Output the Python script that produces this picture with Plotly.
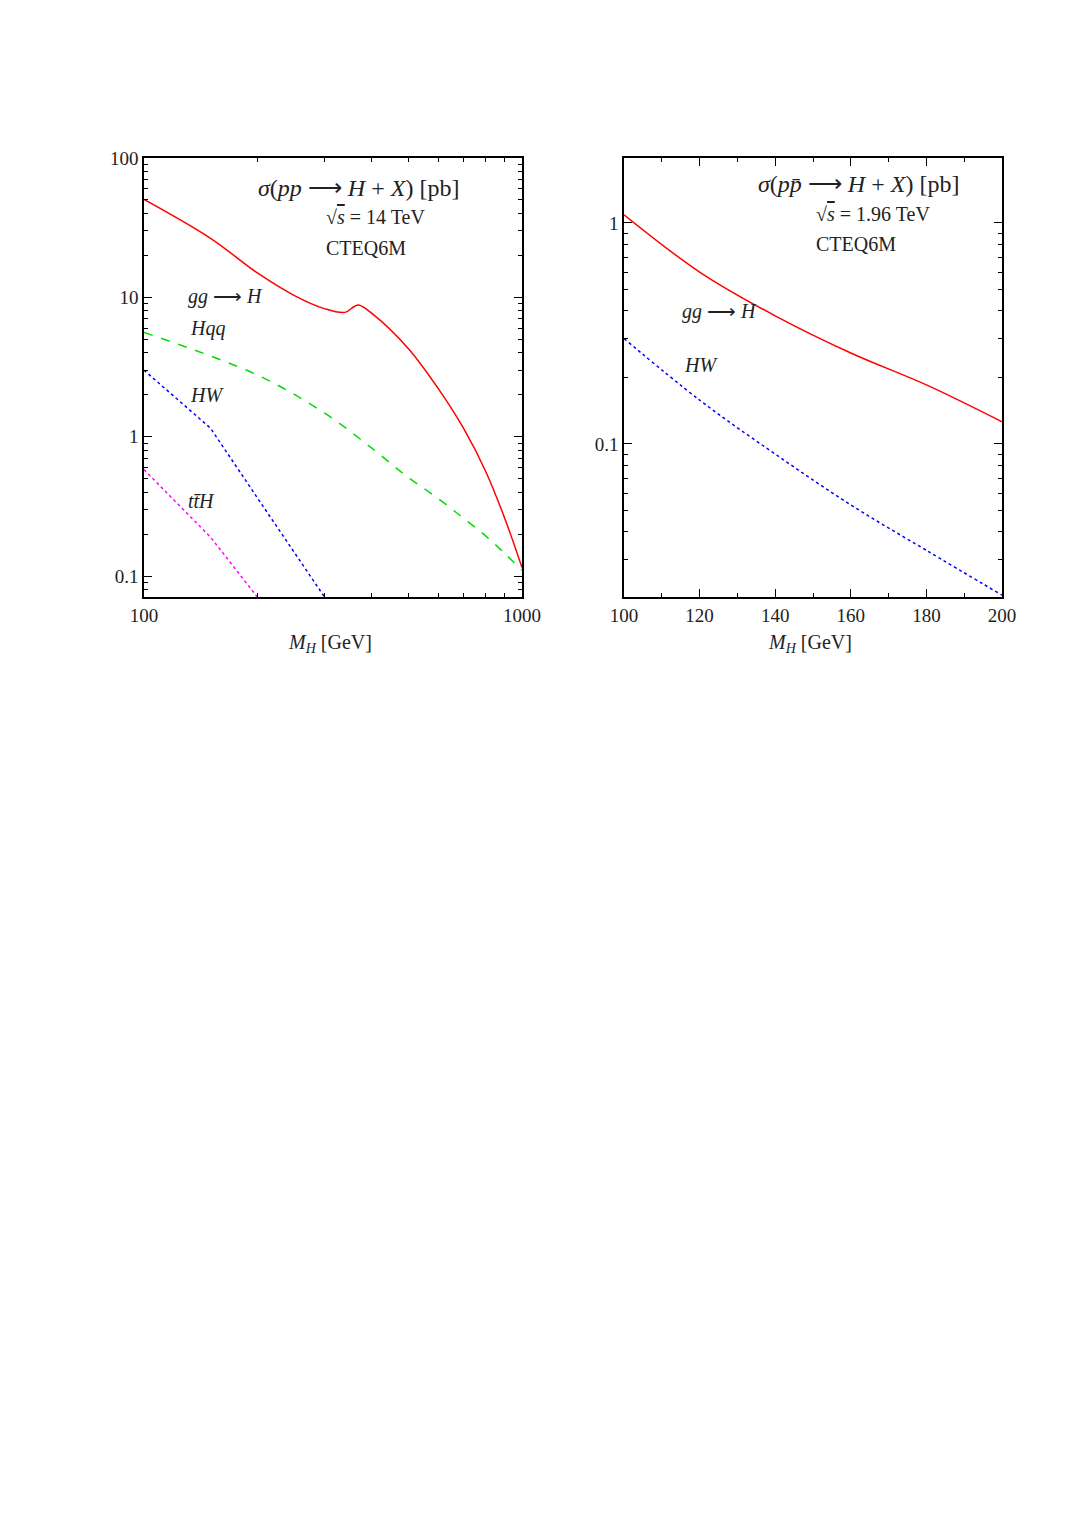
import plotly.graph_objects as go

# left panel data (LHC, sqrt(s)=14 TeV)
m_gg = [100, 150, 200, 250, 300, 340, 360, 370, 400, 500, 600, 700, 800, 900, 1000]
s_gg = [50.4, 26.5, 14.9, 10.3, 8.3, 7.8, 8.6, 8.8, 7.7, 4.3, 2.22, 1.15, 0.57, 0.26, 0.115]
m_hqq = [100, 200, 300, 400, 500, 600, 700, 800, 900, 1000]
s_hqq = [5.6, 2.76, 1.48, 0.83, 0.51, 0.36, 0.26, 0.195, 0.145, 0.11]
m_hw = [100, 150, 200, 250, 300]
s_hw = [3.0, 1.15, 0.36, 0.146, 0.071]
m_tth = [100, 150, 200]
s_tth = [0.58, 0.19, 0.07]
# right panel data (Tevatron, sqrt(s)=1.96 TeV)
m_tev = [100, 120, 140, 160, 180, 200]
s_tev_gg = [1.09, 0.60, 0.38, 0.258, 0.185, 0.126]
s_tev_hw = [0.30, 0.158, 0.090, 0.053, 0.033, 0.0207]

F = "Liberation Serif"
fig = go.Figure()
def tr(x, y, c, d, xa, ya, sh="spline"):
    fig.add_trace(go.Scatter(x=x, y=y, mode="lines", line=dict(color=c, dash=d, width=1.5, shape=sh),
                             xaxis=xa, yaxis=ya, showlegend=False))
tr(m_gg, s_gg, "#ff0000", "solid", "x", "y")
tr(m_hqq, s_hqq, "#00dd00", "dash", "x", "y")
tr(m_hw, s_hw, "#0000ff", "dot", "x", "y", "linear")
tr(m_tth, s_tth, "#ff00ff", "dot", "x", "y", "linear")
tr(m_tev, s_tev_gg, "#ff0000", "solid", "x2", "y2")
tr(m_tev, s_tev_hw, "#0000ff", "dot", "x2", "y2")

ax = dict(showgrid=False, zeroline=False, showline=True, linecolor="black", linewidth=1.5, mirror="ticks",
          ticks="inside", ticklen=8, tickwidth=1.2, tickcolor="black", automargin=False,
          tickfont=dict(family=F, size=19, color="#222"))
minor = dict(ticks="inside", ticklen=4, tickcolor="black", showgrid=False)
yd = [1 - 589/1539, 1 - 150/1539]
fig.update_layout(
    width=1090, height=1539, margin=dict(l=0, r=0, t=0, b=0),
    paper_bgcolor="white", plot_bgcolor="white",
    xaxis=dict(ax, type="log", domain=[136/1090, 514/1090], range=[2, 3], tickvals=[100, 1000],
               ticktext=["100", "1000"], minor=dict(minor, dtick="D1"), anchor="y"),
    yaxis=dict(ax, type="log", domain=yd, range=[-1.1505, 2], tickvals=[0.1, 1, 10, 100],
               ticktext=["0.1", "1", "10", "100"], minor=dict(minor, dtick="D1"), anchor="x"),
    xaxis2=dict(ax, domain=[616/1090, 994/1090], range=[100, 200], tickvals=[100, 120, 140, 160, 180, 200],
                minor=dict(minor, dtick=10), anchor="y2"),
    yaxis2=dict(ax, type="log", domain=yd, range=[-1.6925, 0.2941], tickvals=[0.1, 1], ticktext=["0.1", "1"],
                minor=dict(minor, dtick="D1"), anchor="x2"),
)
def ann(x, y, t, s=20):
    fig.add_annotation(x=x/1090, y=1-y/1539, xref="paper", yref="paper", text=t, showarrow=False,
                       font=dict(family=F, size=s, color="#222"), xanchor="left", yanchor="middle")
ann(248, 180, "<i>σ</i>(<i>pp</i> ⟶ <i>H</i> + <i>X</i>) [pb]", 24)
ann(316, 209, "√<span style='text-decoration:overline'><i>s</i></span> = 14 TeV")
ann(316, 240, "CTEQ6M")
ann(178, 289, "<i>gg</i> ⟶ <i>H</i>")
ann(180, 320, "<i>Hqq</i>")
ann(180, 387, "<i>HW</i>")
ann(178, 493, "<i>tt̄H</i>")
ann(278, 635, "<i>M<sub>H</sub></i> [GeV]")
ann(748, 176, "<i>σ</i>(<i>pp̄</i> ⟶ <i>H</i> + <i>X</i>) [pb]", 24)
ann(806, 206, "√<span style='text-decoration:overline'><i>s</i></span> = 1.96 TeV")
ann(806, 236, "CTEQ6M")
ann(672, 303, "<i>gg</i> ⟶ <i>H</i>")
ann(674, 357, "<i>HW</i>")
ann(758, 635, "<i>M<sub>H</sub></i> [GeV]")
fig.write_html("out.html")
